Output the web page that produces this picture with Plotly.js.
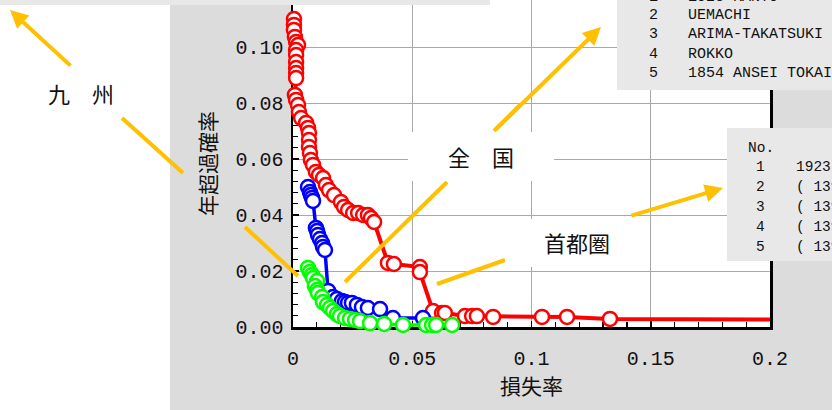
<!DOCTYPE html>
<html>
<head>
<meta charset="utf-8">
<script src="https://cdn.plot.ly/plotly-3.0.1.min.js"></script>
<style>html,body{margin:0;padding:0;background:#dcdcdc;}#chart{width:832px;height:410px;}</style>
</head>
<body>
<div id="chart"></div>
<script>
// ---- data (loss ratio vs annual exceedance probability) ----
const redX = [0.0004,0.0004,0.0004,0.0008,0.0013,0.0021,0.0013,0.0013,0.0013,0.0013,0.0013,0.0013,0.0008,0.0013,0.0021,0.0025,0.0034,0.0055,0.0063,0.0067,0.0067,0.0067,0.0071,0.0075,0.0084,0.0096,0.0109,0.0126,0.0138,0.0151,0.0172,0.0201,0.0214,0.0231,0.0252,0.0273,0.0294,0.0314,0.0327,0.0340,0.0398,0.0423,0.0532,0.0532,0.0587,0.0625,0.0637,0.0721,0.0751,0.0771,0.0839,0.1044,0.1149,0.1329,0.25];
const redY = [0.1100,0.1079,0.1061,0.1036,0.1018,0.1007,0.0989,0.0971,0.0946,0.0925,0.0907,0.0889,0.0829,0.0811,0.0793,0.0768,0.0746,0.0729,0.0711,0.0693,0.0668,0.0643,0.0621,0.0596,0.0579,0.0554,0.0543,0.0532,0.0507,0.0489,0.0471,0.0446,0.0429,0.0418,0.0407,0.0407,0.0400,0.0400,0.0389,0.0375,0.0229,0.0225,0.0214,0.0196,0.0057,0.0050,0.0050,0.0039,0.0039,0.0039,0.0036,0.0036,0.0036,0.0029,0.0025];
const blueX = [0.0063,0.0071,0.0075,0.0080,0.0084,0.0096,0.0101,0.0105,0.0113,0.0122,0.0126,0.0134,0.0147,0.0168,0.0184,0.0205,0.0218,0.0231,0.0247,0.0268,0.0289,0.0314,0.0365,0.0419,0.0545];
const blueY = [0.0500,0.0482,0.0471,0.0461,0.0450,0.0354,0.0343,0.0329,0.0314,0.0300,0.0286,0.0275,0.0129,0.0107,0.0100,0.0093,0.0089,0.0086,0.0086,0.0079,0.0071,0.0068,0.0064,0.0032,0.0032];
const greenX = [0.0063,0.0071,0.0080,0.0084,0.0101,0.0092,0.0101,0.0105,0.0122,0.0126,0.0143,0.0155,0.0168,0.0184,0.0197,0.0218,0.0239,0.0260,0.0281,0.0323,0.0382,0.0461,0.0558,0.0583,0.0600,0.0667];
const greenY = [0.0211,0.0196,0.0186,0.0175,0.0164,0.0146,0.0132,0.0121,0.0107,0.0089,0.0079,0.0068,0.0057,0.0046,0.0039,0.0032,0.0029,0.0025,0.0021,0.0014,0.0011,0.0007,0.0007,0.0007,0.0007,0.0007];

const xTitle = '損失率';
const yTitle = '年超過確率';
const labelKyushu = '九　州';
const labelZenkoku = '全　国';
const labelShuto = '首都圏';
const boxTopNums = ['1','2','3','4','5'];
const boxTopNames = ['1923 KANTO','UEMACHI','ARIMA-TAKATSUKI','ROKKO','1854 ANSEI TOKAI'];
const boxMidHead = 'No.';
const boxMidNums = ['1','2','3','4','5'];
const boxMidNames = ['1923 KANTO','( 139.7, 35.7)','( 139.5, 35.6)','( 139.8, 35.5)','( 139.6, 35.8)'];

// ---- geometry helpers (pixel -> paper) ----
const L = 293, R = 770, B = 327, T = 0;
const px = x => (x - L) / (R - L);
const py = y => (B - y) / (B - T);
const XMAX = 0.2;

const mono = 'Liberation Mono, DejaVu Sans Mono, monospace';
const cjk = 'Noto Sans CJK JP, Noto Sans, sans-serif';
const gold = '#ffc000';

function series(x, y, color, lw) {
  return {
    x: x, y: y, type: 'scatter', mode: 'lines+markers', cliponaxis: false,
    line: {color: color, width: lw},
    marker: {symbol: 'circle', size: x.map(v => v > XMAX ? 0 : 14), color: 'white', opacity: 1,
             line: {color: color, width: 2.5}},
    hoverinfo: 'skip'
  };
}

const traces = [
  series(redX, redY, '#ff0000', 4),
  series(blueX, blueY, '#0000ff', 3.5),
  series(greenX, greenY, '#00ff00', 3.5)
];

function rectPx(x0, y0, x1, y1, fill, layer) {
  return {type: 'rect', xref: 'paper', yref: 'paper', x0: px(x0), x1: px(x1), y0: py(y1), y1: py(y0),
          fillcolor: fill, line: {width: 0}, layer: layer};
}
function linePx(x0, y0, x1, y1) {
  return {type: 'line', xref: 'paper', yref: 'paper', x0: px(x0), y0: py(y0), x1: px(x1), y1: py(y1),
          line: {color: gold, width: 4}, layer: 'above'};
}
function arrowPx(tx, ty, hx, hy) {
  return {xref: 'paper', yref: 'paper', x: px(hx), y: py(hy), ax: tx - hx, ay: ty - hy, text: '',
          showarrow: true, arrowhead: 2, arrowsize: 0.9, arrowwidth: 4, arrowcolor: gold,
          standoff: 0, startstandoff: 0};
}
function textPx(x, y, text, font, anchor) {
  return {xref: 'paper', yref: 'paper', x: px(x), y: py(y), text: text, showarrow: false,
          xanchor: anchor || 'center', yanchor: 'middle', font: font};
}

const shapes = [
  rectPx(0, 5, 170, 410, 'white', 'below'),
  linePx(345, 282, 447, 182),
  linePx(494, 131, 520, 105),
  linePx(122, 118, 183, 173),
  linePx(245, 227, 298, 276),
  linePx(437, 284, 505, 260),
  rectPx(408, 132, 554, 181, 'white', 'above'),
  rectPx(505, 219, 630, 267, 'white', 'above'),
  rectPx(0, 0, 490, 5, '#e8e8e8', 'above'),
  rectPx(617, 0, 832, 90, '#e8e8e8', 'above'),
  rectPx(727, 128, 832, 261, '#e8e8e8', 'above')
];

const boxFont = {family: mono, size: 15, color: '#111'};
const midFont = {family: mono, size: 14.5, color: '#111'};
const labFont = {family: cjk, size: 22, color: '#111'};
const annotations = [
  arrowPx(72, 67, 10, 10),
  arrowPx(494, 131, 601, 27),
  arrowPx(630, 216, 723, 188),
  textPx(81, 93, labelKyushu, labFont),
  textPx(481, 156, labelZenkoku, labFont),
  textPx(577, 242, labelShuto, {family: cjk, size: 22, color: '#111'})
];
boxTopNums.forEach((n, i) => {
  const y = -3 + i * 19;
  annotations.push(textPx(653, y, n, boxFont));
  annotations.push(textPx(686, y, boxTopNames[i], boxFont, 'left'));
});
annotations.push(textPx(746, 148, boxMidHead, midFont, 'left'));
boxMidNums.forEach((n, i) => {
  const y = 167 + i * 20;
  annotations.push(textPx(760, y, n, midFont));
  annotations.push(textPx(794, y, boxMidNames[i], midFont, 'left'));
});

const tickFont = {family: mono, size: 20, color: '#111'};
const titleFont = {family: cjk, size: 21, color: '#111'};
const layout = {
  width: 832, height: 410,
  margin: {l: L, r: 832 - R, t: T, b: 410 - B, pad: 0},
  paper_bgcolor: '#dcdcdc', plot_bgcolor: 'white',
  showlegend: false,
  xaxis: {
    range: [0, XMAX], tick0: 0, dtick: 0.05, automargin: false,
    ticks: 'inside', ticklen: 6, tickwidth: 1.5, tickcolor: 'black',
    minor: {dtick: 0.01, ticks: 'inside', ticklen: 5, tickwidth: 1.2, tickcolor: 'black', showgrid: false},
    showline: true, linecolor: 'black', linewidth: 2.5,
    showgrid: true, gridcolor: '#a8a8a8', gridwidth: 1, zeroline: false,
    tickfont: tickFont, ticklabelstandoff: 11, layer: 'below traces',
    title: {text: xTitle, font: titleFont, standoff: 5}
  },
  yaxis: {
    range: [0, B / 2800], tick0: 0, dtick: 0.02, tickformat: '.2f', automargin: false,
    ticks: 'inside', ticklen: 6, tickwidth: 1.5, tickcolor: 'black',
    minor: {dtick: 0.004, ticks: 'inside', ticklen: 5, tickwidth: 1.2, tickcolor: 'black', showgrid: false},
    showline: true, mirror: true, linecolor: 'black', linewidth: 2.5,
    showgrid: true, gridcolor: '#a8a8a8', gridwidth: 1, zeroline: false,
    tickfont: tickFont, ticklabelstandoff: 3, layer: 'below traces',
    title: {text: yTitle, font: titleFont, standoff: 13}
  },
  shapes: shapes,
  annotations: annotations
};

Plotly.newPlot('chart', traces, layout, {staticPlot: true, displayModeBar: false});
</script>
</body>
</html>
